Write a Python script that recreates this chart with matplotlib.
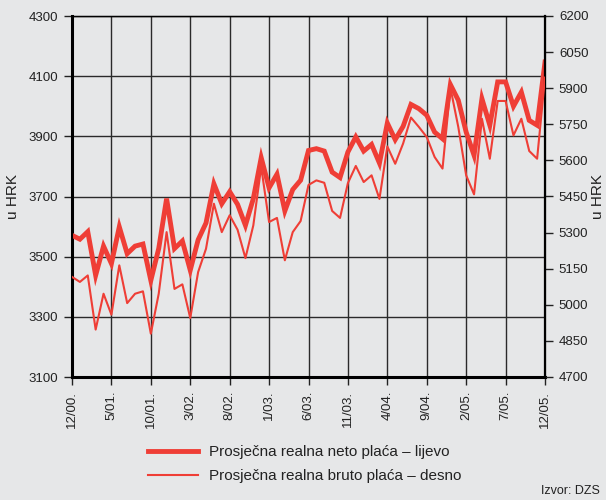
import matplotlib
matplotlib.use("Agg")
import matplotlib.pyplot as plt
import numpy as np

plt.rcParams['font.family'] = ['Liberation Sans', 'DejaVu Sans']

# monthly, 12/2000 - 12/2005
neto = [3571, 3558, 3583, 3438, 3535, 3477, 3599, 3510, 3535, 3542,
        3421, 3527, 3693, 3527, 3552, 3455, 3556, 3612, 3742, 3676,
        3716, 3674, 3604, 3693, 3829, 3729, 3774, 3652, 3723, 3754,
        3853, 3859, 3851, 3781, 3763, 3848, 3898, 3851, 3873, 3811,
        3944, 3889, 3933, 4006, 3992, 3970, 3914, 3892, 4072, 4020,
        3914, 3837, 4025, 3937, 4081, 4081, 4000, 4047, 3953, 3937,
        4147]
bruto = [5116, 5095, 5122, 4897, 5046, 4959, 5164, 5007, 5046, 5056,
         4880, 5046, 5302, 5066, 5085, 4945, 5136, 5233, 5420, 5302,
         5372, 5312, 5194, 5330, 5573, 5344, 5361, 5185, 5302, 5348,
         5498, 5517, 5507, 5390, 5361, 5506, 5577, 5510, 5538, 5440,
         5658, 5586, 5670, 5778, 5739, 5697, 5614, 5566, 5902, 5739,
         5538, 5459, 5773, 5607, 5847, 5847, 5704, 5773, 5639, 5607,
         5944]
xlabels = ["12/00.", "5/01.", "10/01.", "3/02.", "8/02.", "1/03.", "6/03.",
           "11/03.", "4/04.", "9/04.", "2/05.", "7/05.", "12/05."]

bg = '#e6e7e8'
red = '#ef3e36'
x = np.arange(len(neto))

fig = plt.figure(figsize=(6.06, 5.0), dpi=100, facecolor=bg)
ax = fig.add_axes([72/606, 1-377/500, 473/606, 361/500])
ax.set_facecolor(bg)
ax2 = ax.twinx()

ax.plot(x, neto, color=red, lw=3.5, solid_joinstyle='miter', zorder=3)
ax2.plot(x, bruto, color=red, lw=1.5, zorder=3)

ax.set_xlim(0, 60)
ax.set_ylim(3100, 4300)
ax2.set_ylim(4700, 6200)
ax.set_yticks(np.arange(3100, 4301, 200))
ax2.set_yticks(np.arange(4700, 6201, 150))
ax.set_xticks(np.arange(0, 61, 5))
ax.set_xticklabels(xlabels, rotation=90)

ax.grid(True, color='#2a2a2a', lw=1.0)
ax.set_axisbelow(True)
for s in ['left', 'bottom']:
    ax.spines[s].set_linewidth(2.2)
ax.spines['top'].set_linewidth(1.0)
ax2.spines['right'].set_linewidth(1.6)
for a in (ax, ax2):
    a.tick_params(length=6, width=1, color='#222222', labelsize=9.5,
                  labelcolor='#222222', pad=4)

ax.set_ylabel("u HRK", fontsize=11, color='#222222', labelpad=6)
ax2.set_ylabel("u HRK", fontsize=11, color='#222222', labelpad=2)

h1, = ax.plot([], [], color=red, lw=3.5)
h2, = ax.plot([], [], color=red, lw=1.5)
fig.legend([h1, h2], ["Prosječna realna neto plaća – lijevo",
                      "Prosječna realna bruto plaća – desno"],
           loc='center left', bbox_to_anchor=(134/606, 1-464/500),
           frameon=False, fontsize=11, handlelength=3.3,
           handletextpad=0.7, labelspacing=0.65, labelcolor='#222222')

fig.text(600/606, 1-491/500, "Izvor: DZS", fontsize=9, color='#222222',
         va='center', ha='right')

fig.savefig("out.png", dpi=100, facecolor=bg)
